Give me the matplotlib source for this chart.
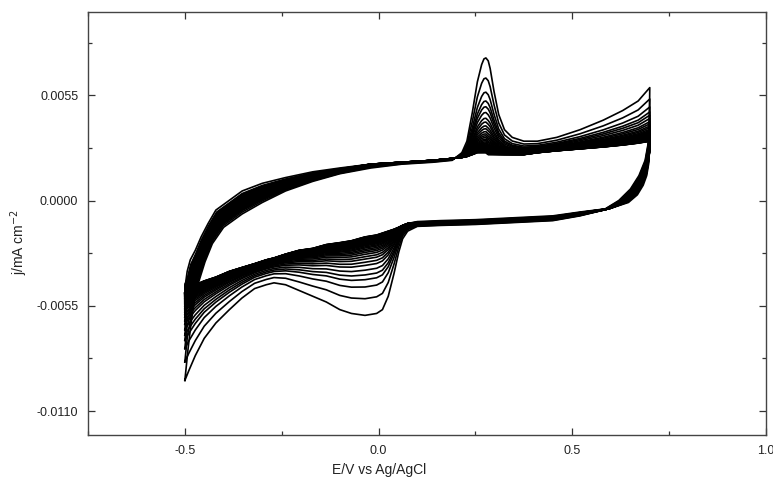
import numpy as np
import matplotlib
matplotlib.use("Agg")
import matplotlib.pyplot as plt
from matplotlib.ticker import MultipleLocator, FormatStrFormatter

plt.rcParams["font.family"] = ["Liberation Sans", "DejaVu Sans"]

# first cycle, forward scan (-0.5 -> 0.7 V)
FWD_FIRST_E = [-0.500, -0.492, -0.484, -0.475, -0.465, -0.448, -0.429, -0.400, -0.352, -0.300,
               -0.240, -0.170, -0.100, -0.020, 0.060, 0.140, 0.190, 0.215, 0.228, 0.242,
               0.255, 0.266, 0.272, 0.277, 0.283, 0.288, 0.298, 0.310, 0.325, 0.345,
               0.375, 0.410, 0.460, 0.520, 0.580, 0.630, 0.670, 0.700]
FWD_FIRST_J = [-0.0094, -0.0078, -0.0064, -0.0052, -0.0043, -0.0032, -0.00225, -0.0014, -0.0007, -0.0001,
               0.0005, 0.0010, 0.0014, 0.0017, 0.0019, 0.0020, 0.0021, 0.0025, 0.0031, 0.0046,
               0.0062, 0.0071, 0.0074, 0.00745, 0.0073, 0.0069, 0.0057, 0.0045, 0.0037, 0.0033,
               0.0031, 0.0031, 0.0033, 0.0037, 0.0042, 0.0047, 0.0052, 0.0059]

# last cycle, forward scan
FWD_LAST_E = [-0.500, -0.498, -0.494, -0.486, -0.473, -0.458, -0.440, -0.420, -0.352, -0.300,
              -0.240, -0.170, -0.100, -0.020, 0.060, 0.140, 0.190, 0.215, 0.228, 0.242,
              0.255, 0.266, 0.272, 0.277, 0.283, 0.288, 0.298, 0.310, 0.325, 0.345,
              0.375, 0.410, 0.460, 0.520, 0.580, 0.630, 0.670, 0.700]
FWD_LAST_J = [-0.0048, -0.0043, -0.0037, -0.0031, -0.0026, -0.0019, -0.0012, -0.0005, 0.0005, 0.0009,
              0.0012, 0.0015, 0.0017, 0.0019, 0.0020, 0.0021, 0.0022, 0.00225, 0.0023, 0.0024,
              0.0025, 0.0025, 0.0025, 0.0025, 0.0024, 0.0024, 0.0024, 0.0024, 0.0024, 0.0024,
              0.0024, 0.0025, 0.0026, 0.0027, 0.0028, 0.0029, 0.0030, 0.0031]

# first cycle, reverse scan (0.7 -> -0.5 V)
REV_FIRST_E = [0.700, 0.699, 0.696, 0.688, 0.672, 0.650, 0.620, 0.580, 0.520, 0.450,
               0.350, 0.250, 0.160, 0.100, 0.075, 0.062, 0.052, 0.040, 0.025, 0.010,
               -0.005, -0.035, -0.070, -0.100, -0.135, -0.170, -0.205, -0.240, -0.270, -0.290,
               -0.320, -0.353, -0.385, -0.420, -0.450, -0.473, -0.490, -0.500]
REV_FIRST_J = [0.0059, 0.0042, 0.0030, 0.0021, 0.0013, 0.0006, 0.0000, -0.0005, -0.0008, -0.00105,
               -0.00115, -0.00125, -0.0013, -0.00135, -0.0016, -0.0020, -0.0027, -0.0038, -0.0050, -0.0057,
               -0.0059, -0.0060, -0.0059, -0.0057, -0.0053, -0.0050, -0.0047, -0.0044, -0.0043, -0.0044,
               -0.0046, -0.0051, -0.0057, -0.0064, -0.0072, -0.0081, -0.0089, -0.0094]

# last cycle, reverse scan
REV_LAST_E = [0.700, 0.699, 0.697, 0.692, 0.683, 0.668, 0.645, 0.600, 0.520, 0.450,
              0.350, 0.250, 0.160, 0.100, 0.075, 0.062, 0.052, 0.040, 0.025, 0.010,
              -0.005, -0.035, -0.070, -0.100, -0.135, -0.170, -0.205, -0.240, -0.270, -0.290,
              -0.320, -0.353, -0.385, -0.420, -0.450, -0.473, -0.490, -0.500]
REV_LAST_J = [0.0031, 0.0025, 0.0019, 0.0013, 0.0008, 0.0003, -0.0001, -0.0004, -0.0006, -0.0008,
              -0.0009, -0.0010, -0.00105, -0.0011, -0.0012, -0.0013, -0.0014, -0.0015, -0.0016, -0.0017,
              -0.0018, -0.0019, -0.0021, -0.0022, -0.0023, -0.0025, -0.0026, -0.0028, -0.0030, -0.0031,
              -0.0033, -0.0035, -0.0037, -0.0040, -0.0042, -0.0044, -0.0046, -0.0048]

# anodic peak height read for each cycle (~0.27 V)
PEAK_J = [0.00745, 0.0064, 0.00566, 0.0052, 0.0049, 0.0046, 0.0043, 0.0041, 0.0039, 0.00375,
          0.0036, 0.00348, 0.00338, 0.00329, 0.0032, 0.00313, 0.00306, 0.0030, 0.00295, 0.0029,
          0.00286, 0.00282, 0.00278, 0.00275, 0.00272, 0.00269, 0.00266, 0.00264, 0.00262, 0.0026,
          0.00258, 0.00256, 0.00255, 0.00254, 0.00253, 0.00252, 0.00251, 0.0025]

X_TICKS = [-0.5, 0.0, 0.5, 1.0]
Y_TICKS = [-0.0110, -0.0055, 0.0000, 0.0055]

# parts of the loop right after each switching potential spread more evenly between cycles
FWD_EVEN = np.r_[np.zeros(2), np.ones(11), np.zeros(len(FWD_FIRST_E) - 13)].astype(bool)
REV_EVEN = np.r_[np.zeros(2), np.ones(12), np.zeros(len(REV_FIRST_E) - 14)].astype(bool)


def blend(first, last, w, even):
    first, last = np.asarray(first), np.asarray(last)
    wt = np.where(even, w ** 0.35, w)
    return last + wt * (first - last)


def cycle_curve(w):
    e = np.concatenate([blend(FWD_FIRST_E, FWD_LAST_E, w, FWD_EVEN),
                        blend(REV_FIRST_E, REV_LAST_E, w, REV_EVEN)])
    j = np.concatenate([blend(FWD_FIRST_J, FWD_LAST_J, w, FWD_EVEN),
                        blend(REV_FIRST_J, REV_LAST_J, w, REV_EVEN)])
    return e, j


fig = plt.figure(figsize=(7.73, 4.87), dpi=100)
ax = fig.add_axes([88 / 773, 52 / 487, 678 / 773, 423 / 487])

p0, p1 = PEAK_J[0], PEAK_J[-1]
for p in PEAK_J:
    w = (p - p1) / (p0 - p1)
    e, j = cycle_curve(w)
    ax.plot(e, j, color="black", lw=1.2)

ax.set_xlim(-0.75, 1.0)
ax.set_ylim(-0.01225, 0.00985)
ax.set_xticks(X_TICKS)
ax.set_yticks(Y_TICKS)
ax.xaxis.set_minor_locator(MultipleLocator(0.25))
ax.yaxis.set_minor_locator(MultipleLocator(0.00275))
ax.xaxis.set_major_formatter(FormatStrFormatter("%.1f"))
ax.yaxis.set_major_formatter(FormatStrFormatter("%.4f"))
ax.tick_params(which="both", direction="in", top=True, right=True, color="#333333", width=0.9)
ax.tick_params(which="major", length=5, labelsize=9, pad=7, labelcolor="#222222")
ax.tick_params(which="minor", length=3)
for s in ax.spines.values():
    s.set_color("#444444")
    s.set_linewidth(1.0)

ax.set_xlabel("E/V vs Ag/AgCl", fontsize=10, color="#222222")
ax.set_ylabel("j/mA cm$^{-2}$", fontsize=10, color="#222222")
ax.xaxis.set_label_coords(0.43, -0.066)
ax.yaxis.set_label_coords(-0.085, 0.456)

fig.savefig("out.png", dpi=100, facecolor="white")
